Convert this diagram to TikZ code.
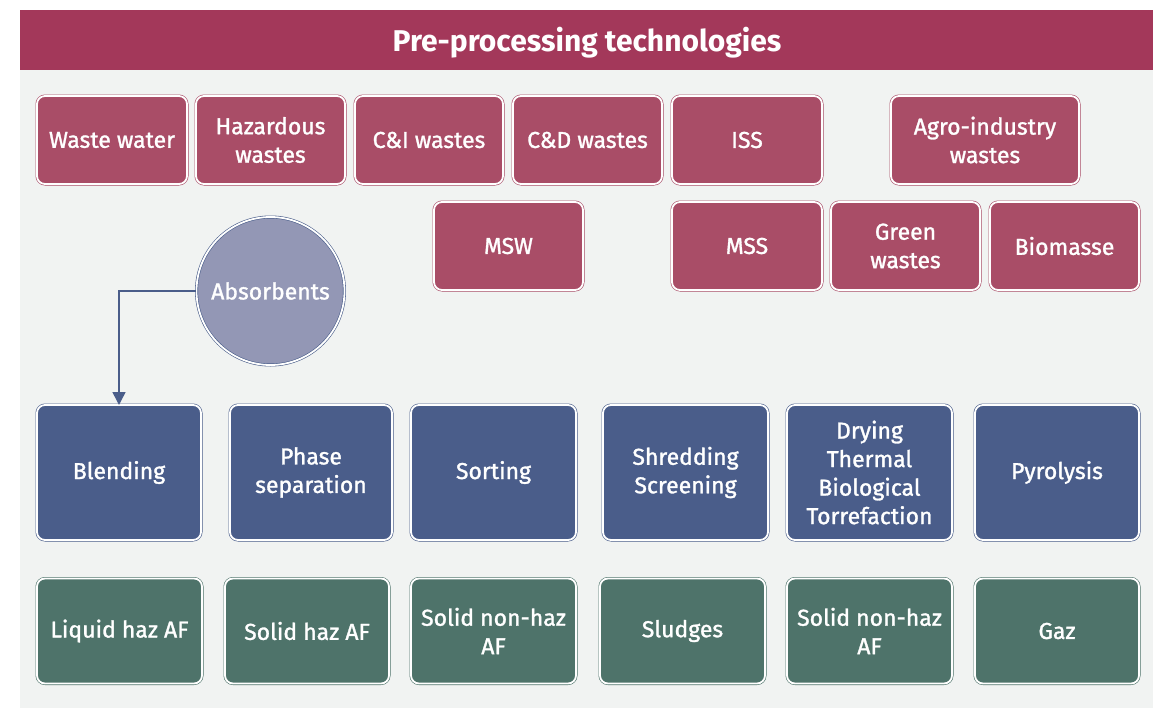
\documentclass[tikz,border=0pt]{standalone}
\usepackage{fontspec}
\setmainfont{Fira Sans}
\newfontfamily\medfont{Fira Sans}[FakeBold=1.3]
\usetikzlibrary{arrows.meta}
\definecolor{hdr}{HTML}{A3385A}
\definecolor{mag}{HTML}{A94D67}
\definecolor{blu}{HTML}{4A5D8A}
\definecolor{grn}{HTML}{4E736A}
\definecolor{circ}{HTML}{9397B5}
\definecolor{bg}{HTML}{F1F3F2}
\tikzset{
  box/.style={rectangle, rounded corners=8pt, inner sep=0pt, outer sep=0pt,
    draw=#1, fill=#1, double=white, double distance=1.8pt, line width=0.6pt,
    text=white, align=center, font=\medfont\fontsize{23}{28.5}\selectfont},
  wbox/.style={box=mag, minimum height=88pt},
  pbox/.style={box=blu, minimum height=135pt},
  obox/.style={box=grn, minimum height=105pt},
  arr/.style={draw=blu, line width=1.5pt, -{Triangle[width=13pt,length=13pt]}},
}
\begin{document}
\begin{tikzpicture}[x=1pt,y=-1pt]
\useasboundingbox (0,0) rectangle (1153,709);
\fill[bg] (20,70) rectangle (1153,708);
\fill[hdr] (20,10) rectangle (1153,70);
\node[text=white, font=\fontsize{30}{34}\selectfont\bfseries] (title) at (587,43) {Pre-processing technologies};
% row 1
\node[wbox, minimum width=150pt] (ww) at (112,140) {Waste water};
\node[wbox, minimum width=149pt] (haz) at (270.5,140) {Hazardous\\wastes};
\node[wbox, minimum width=148pt] (ci) at (429,140) {C\&I wastes};
\node[wbox, minimum width=149pt] (cd) at (587.5,140) {C\&D wastes};
\node[wbox, minimum width=150pt] (iss) at (747,140) {ISS};
\node[wbox, minimum width=188pt] (agro) at (985,140) {Agro-industry\\wastes};
% row 2
\node[wbox, minimum width=149pt] (msw) at (508.5,246) {MSW};
\node[wbox, minimum width=150pt] (mss) at (747,246) {MSS};
\node[wbox, minimum width=149pt] (green) at (905.5,246) {Green\\wastes};
\node[wbox, minimum width=149pt] (bio) at (1064.5,246) {Biomasse};
% absorbents
\node[circle, inner sep=0pt, minimum size=148pt, draw=blu, fill=circ, double=white,
  double distance=1.8pt, line width=0.6pt, text=white, font=\medfont\fontsize{23}{28}\selectfont] (abs) at (270.5,291) {Absorbents};
% row 3
\node[pbox, minimum width=164pt] (blend) at (119,472.5) {Blending};
\node[pbox, minimum width=162pt] (phase) at (311,472.5) {Phase\\separation};
\node[pbox, minimum width=165pt] (sort) at (493.5,472.5) {Sorting};
\node[pbox, minimum width=165pt] (shred) at (685.5,472.5) {Shredding\\Screening};
\node[pbox, minimum width=165pt] (dry) at (869.5,472.5) {Drying\\Thermal\\Biological\\Torrefaction};
\node[pbox, minimum width=164pt] (pyro) at (1057,472.5) {Pyrolysis};
% row 4
\node[obox, minimum width=165pt] (liq) at (119.5,631) {Liquid haz AF};
\node[obox, minimum width=164pt] (shaz) at (307,631) {Solid haz AF};
\node[obox, minimum width=165pt] (snh1) at (493.5,631) {Solid non-haz\\AF};
\node[obox, minimum width=165pt] (slud) at (682.5,631) {Sludges};
\node[obox, minimum width=165pt] (snh2) at (869.5,631) {Solid non-haz\\AF};
\node[obox, minimum width=164pt] (gaz) at (1057,631) {Gaz};
% arrow
\draw[arr] (abs.west) -| (blend.north);
\end{tikzpicture}
\end{document}
